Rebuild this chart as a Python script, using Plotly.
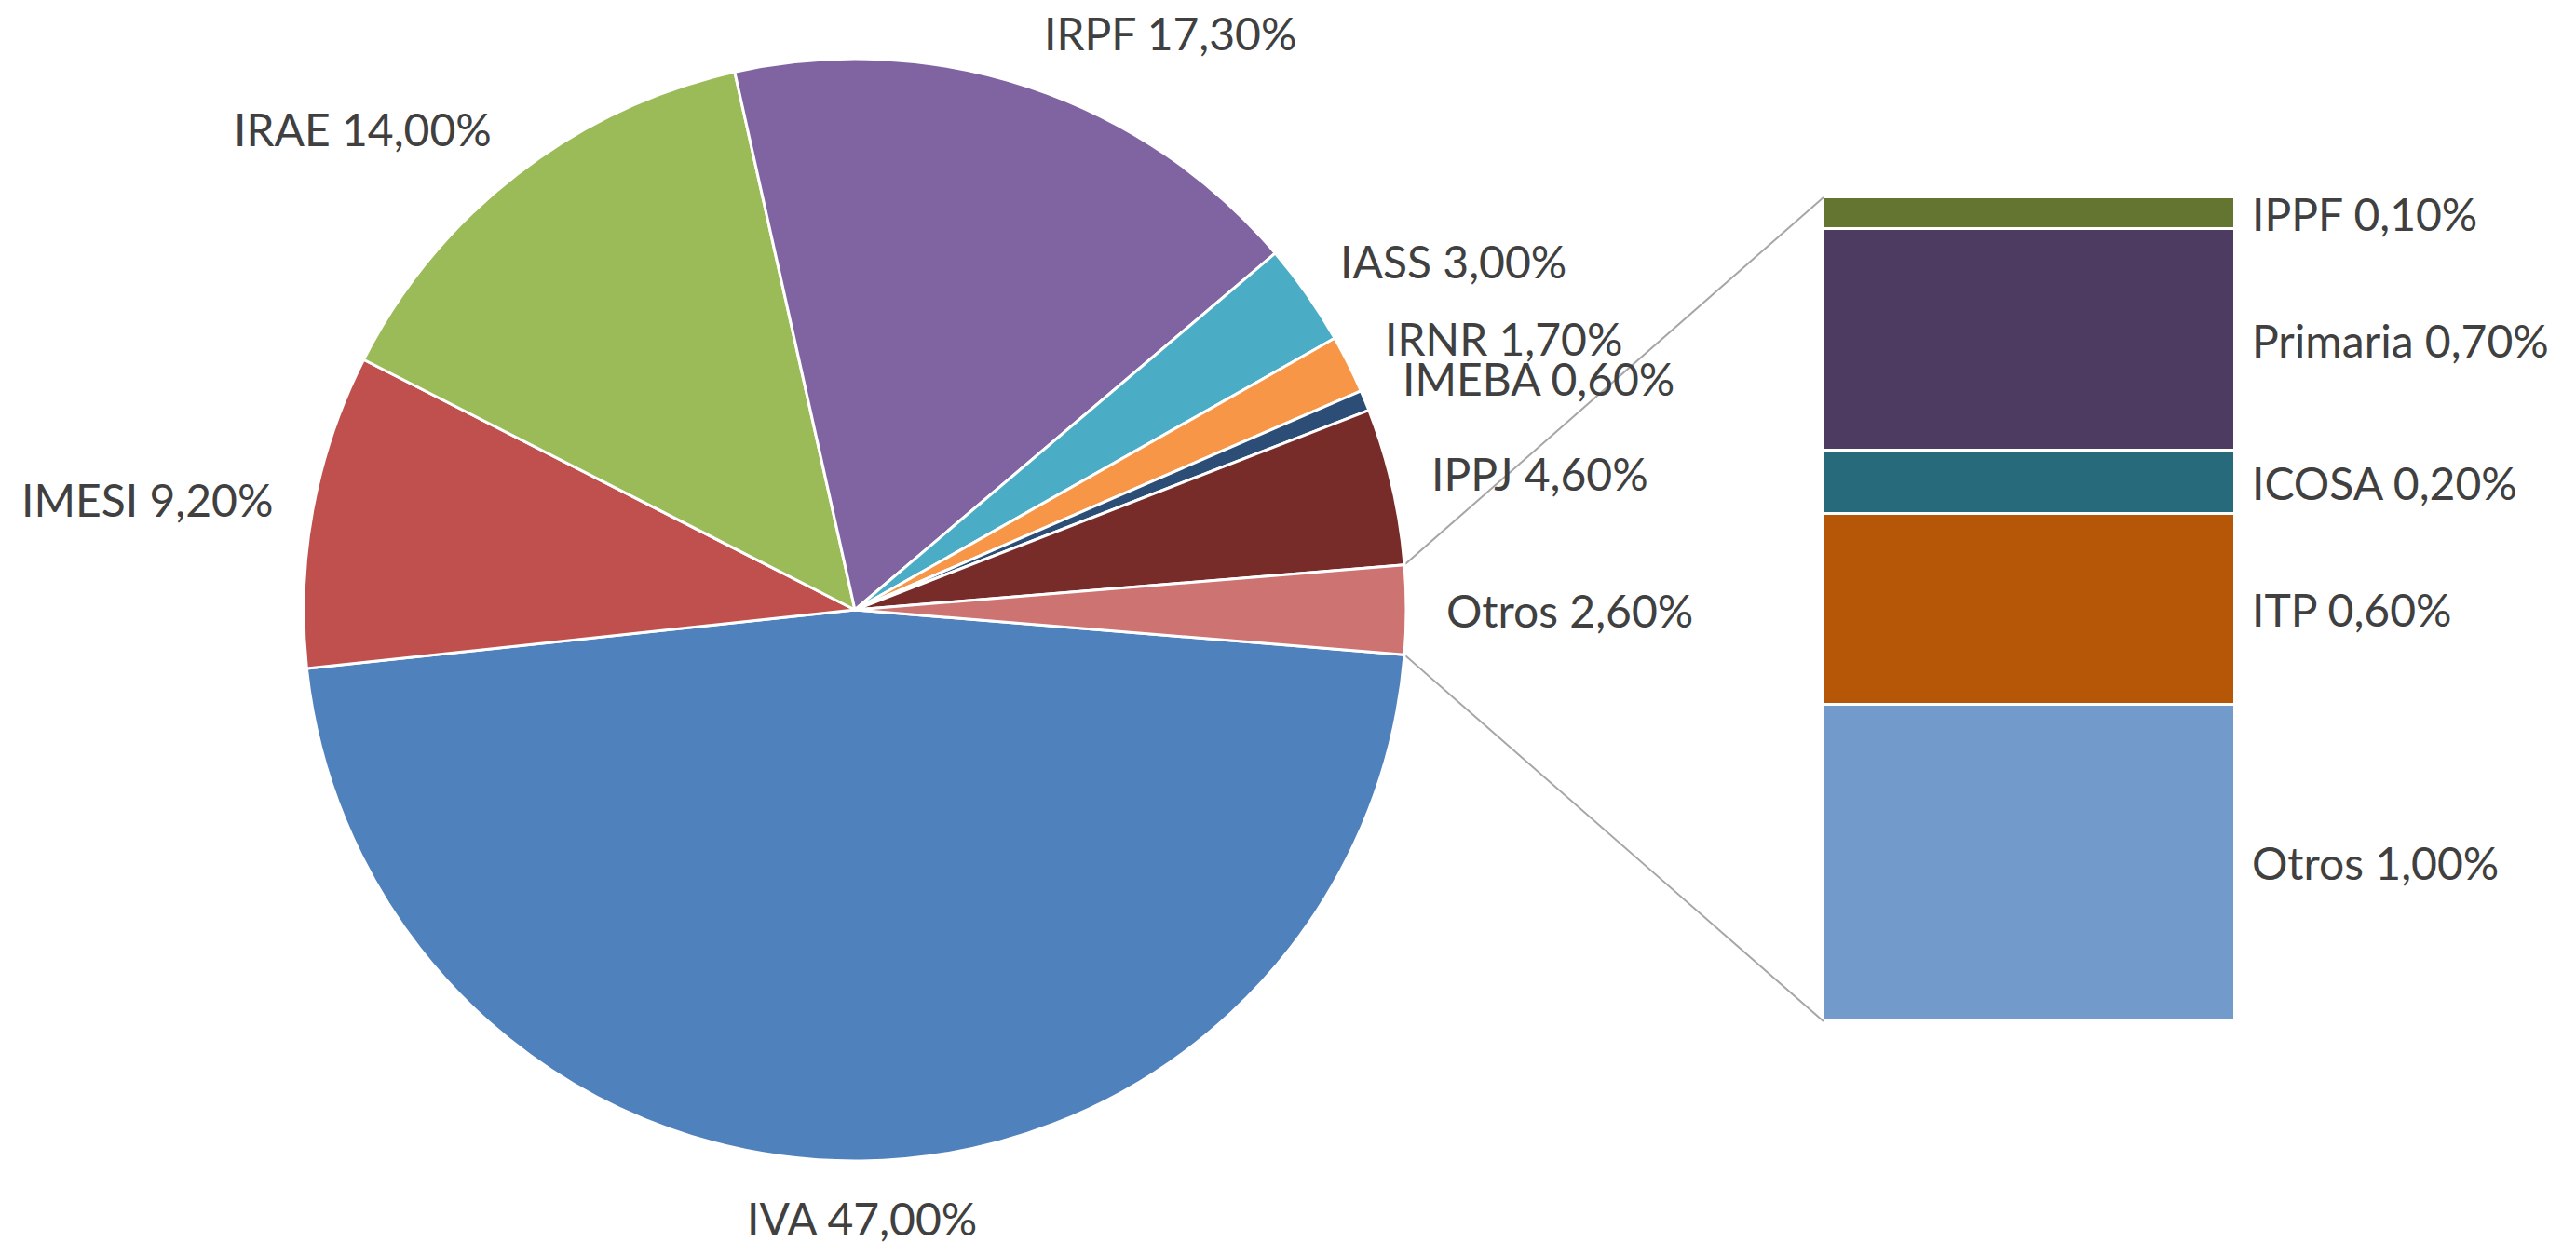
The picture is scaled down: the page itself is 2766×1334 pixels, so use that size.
import math
import plotly.graph_objects as go

# ---------------- data ----------------
pie_labels = ["IVA", "IMESI", "IRAE", "IRPF", "IASS", "IRNR", "IMEBA", "IPPJ", "Otros"]
pie_values = [47.0, 9.2, 14.0, 17.3, 3.0, 1.7, 0.6, 4.6, 2.6]
pie_colors = ["#4F81BD", "#C0504D", "#9BBB59", "#8064A2", "#4BACC6",
              "#F79646", "#2C4D75", "#772C2A", "#CD7371"]

# secondary stacked bar (bottom to top)
bar_labels = ["Otros", "ITP", "ICOSA", "Primaria", "IPPF"]
bar_values = [1.0, 0.6, 0.2, 0.7, 0.1]
bar_colors = ["#729ACA", "#B65708", "#276A7C", "#4D3B62", "#647531"]


def fmt(v):
    return f"{v:.2f}".replace(".", ",") + "%"


# ---------------- layout geometry ----------------
W, H = 2766, 1334
CX, CY, R = 918, 655, 592          # pie centre / radius in px
BX0, BX1, BY0, BY1 = 1958, 2400, 212, 1097   # bar box in px (top, bottom)

px = lambda x: x / W
py = lambda y: 1 - y / H

FONT = dict(family="Lato, 'Open Sans', sans-serif", size=48, color="#404040")

total = sum(pie_values)
split_half = pie_values[-1] / total * 360 / 2
rotation = 90 + split_half

fig = go.Figure()

fig.add_trace(go.Pie(
    labels=pie_labels, values=pie_values, sort=False, direction="clockwise",
    rotation=rotation, textinfo="none", hoverinfo="label+percent",
    marker=dict(colors=pie_colors, line=dict(color="white", width=3)),
    domain=dict(x=[px(CX - R), px(CX + R)], y=[py(CY + R), py(CY - R)]),
    showlegend=False,
))

# stacked bar
for lab, val, col in zip(bar_labels, bar_values, bar_colors):
    fig.add_trace(go.Bar(
        x=[0], y=[val], width=1, name=lab, marker=dict(color=col, line=dict(color="white", width=3)),
        xaxis="x", yaxis="y", showlegend=False, hoverinfo="name+y",
    ))

bar_total = sum(bar_values)

annotations = []
# pie labels
start = rotation
for lab, val in zip(pie_labels, pie_values):
    span = val / total * 360
    mid = math.radians(start + span / 2)
    start += span
    s, c = math.sin(mid), math.cos(mid)
    lx = CX + R * 1.07 * s
    ly = CY - R * 1.07 * c - 20 * c
    if s > 0.1:
        xa = "left"
    elif s < -0.1:
        xa = "right"
    else:
        xa = "center"
    annotations.append(dict(
        x=px(lx), y=py(ly), xref="paper", yref="paper", text=f"{lab} {fmt(val)}",
        showarrow=False, xanchor=xa, yanchor="middle", font=FONT,
    ))

# bar labels
cum = 0
for lab, val in zip(bar_labels, bar_values):
    annotations.append(dict(
        x=0.5, y=cum + val / 2, xref="x", yref="y", text=f"{lab} {fmt(val)}",
        showarrow=False, xanchor="left", yanchor="middle", xshift=16, font=FONT,
    ))
    cum += val

# connector lines
e_dx = R * math.cos(math.radians(split_half))
e_dy = R * math.sin(math.radians(split_half))
shapes = [
    dict(type="line", xref="paper", yref="paper",
         x0=px(CX + e_dx), y0=py(CY - e_dy), x1=px(BX0), y1=py(BY0),
         line=dict(color="#A6A6A6", width=2), layer="below"),
    dict(type="line", xref="paper", yref="paper",
         x0=px(CX + e_dx), y0=py(CY + e_dy), x1=px(BX0), y1=py(BY1),
         line=dict(color="#A6A6A6", width=2), layer="below"),
]

fig.update_layout(
    width=W, height=H, margin=dict(l=0, r=0, t=0, b=0),
    paper_bgcolor="white", plot_bgcolor="rgba(0,0,0,0)",
    barmode="stack", bargap=0,
    xaxis=dict(domain=[px(BX0), px(BX1)], range=[-0.5, 0.5], visible=False, fixedrange=True),
    yaxis=dict(domain=[py(BY1), py(BY0)], range=[0, bar_total], visible=False, fixedrange=True),
    annotations=annotations, shapes=shapes, showlegend=False,
)

fig.write_html(
    "out.html",
    config={"displayModeBar": False},
    post_script="document.body.style.margin='0';document.body.style.overflow='hidden';",
)
